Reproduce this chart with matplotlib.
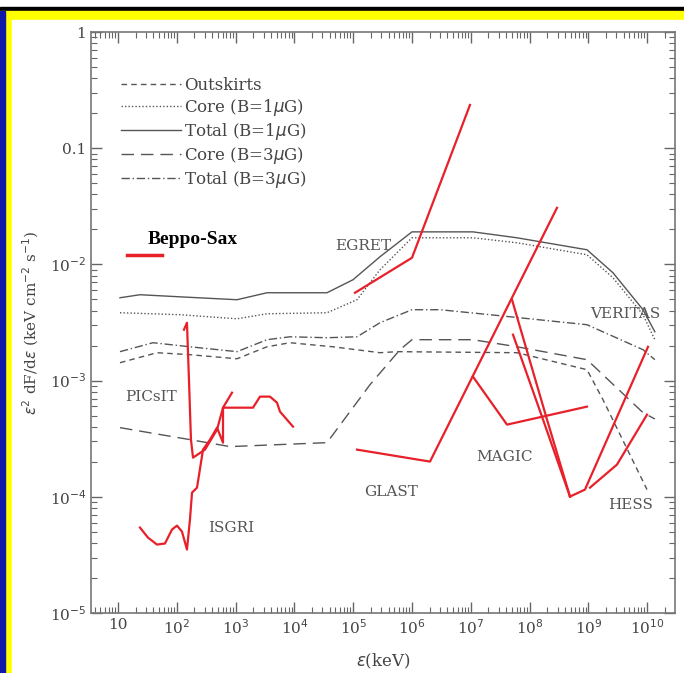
import numpy as np
import matplotlib.pyplot as plt
from matplotlib.patches import Rectangle

# model curves, log10(E/keV) and log10(flux)
outsk_lx = [1.034, 1.663, 2.224, 3.024, 3.534, 3.925, 4.656, 5.456, 5.745, 7.786, 8.976, 9.248, 9.997]
outsk_ly = [-2.846, -2.760, -2.777, -2.812, -2.709, -2.674, -2.709, -2.760, -2.751, -2.760, -2.906, -3.164, -3.938]

core1_lx = [1.034, 2.054, 3.024, 3.534, 4.554, 5.065, 5.456, 6.000, 7.037, 7.786, 8.976, 9.418, 9.929, 10.13]
core1_ly = [-2.416, -2.433, -2.468, -2.425, -2.416, -2.304, -2.046, -1.771, -1.771, -1.814, -1.917, -2.115, -2.433, -2.648]

tot1_lx = [1.034, 1.374, 2.054, 3.024, 3.534, 4.554, 4.997, 5.456, 6.000, 7.037, 7.786, 8.976, 9.418, 9.929, 10.13]
tot1_ly = [-2.287, -2.261, -2.279, -2.304, -2.244, -2.244, -2.132, -1.934, -1.720, -1.720, -1.771, -1.874, -2.072, -2.390, -2.580]

core3_lx = [1.034, 2.224, 2.905, 4.554, 5.286, 5.796, 6.000, 7.037, 7.786, 8.976, 9.929, 10.13]
core3_ly = [-3.405, -3.508, -3.568, -3.534, -3.035, -2.734, -2.648, -2.648, -2.709, -2.820, -3.276, -3.330]

tot3_lx = [1.034, 1.595, 2.224, 3.024, 3.534, 3.925, 4.554, 5.065, 5.456, 6.000, 6.476, 7.327, 8.976, 9.929, 10.13]
tot3_ly = [-2.751, -2.674, -2.709, -2.751, -2.648, -2.623, -2.631, -2.623, -2.502, -2.390, -2.390, -2.433, -2.519, -2.734, -2.820]

# instrument sensitivities
beppo_lx = [1.15, 1.75]
beppo_ly = [-1.92, -1.92]

isgri_lx = [1.374, 1.510, 1.663, 1.799, 1.918, 2.003, 2.088, 2.173, 2.224, 2.259, 2.344, 2.446, 2.565, 2.684, 2.786, 2.786, 2.939]
isgri_ly = [-4.265, -4.351, -4.411, -4.402, -4.282, -4.248, -4.299, -4.454, -4.196, -3.964, -3.921, -3.594, -3.508, -3.405, -3.534, -3.233, -3.104]

picsit_lx = [2.122, 2.173, 2.207, 2.241, 2.276, 2.480, 2.684, 2.786, 3.296, 3.415, 3.585, 3.704, 3.755, 3.976]
picsit_ly = [-2.562, -2.502, -2.992, -3.508, -3.663, -3.594, -3.422, -3.233, -3.233, -3.138, -3.138, -3.190, -3.267, -3.396]

egret_lx = [5.031, 6.000, 6.986]
egret_ly = [-2.244, -1.943, -0.628]

glast_lx = [5.065, 6.306, 8.466]
glast_ly = [-3.594, -3.697, -1.513]

magic_lx = [7.037, 7.616, 8.976]
magic_ly = [-2.966, -3.379, -3.224]

hess1_lx = [7.701, 8.296, 8.687]
hess1_ly = [-2.304, -3.335, -3.998]
hess2_lx = [7.718, 8.228, 8.687]
hess2_ly = [-2.605, -3.335, -3.998]
hess3_lx = [8.687, 8.942, 10.014]
hess3_ly = [-3.998, -3.938, -2.709]
hess4_lx = [9.027, 9.486, 9.997]
hess4_ly = [-3.921, -3.723, -3.293]

def p(a):
    return np.power(10.0, a)

fig = plt.figure(figsize=(6.84, 6.73), dpi=100)
fig.patch.set_facecolor('white')

# frame decoration
W, H = 684.0, 673.0
fig.patches.append(Rectangle((0, 1 - 11/H), 1, 4/H, transform=fig.transFigure, color='black', zorder=-5))
fig.patches.append(Rectangle((0, 0), 1, 1 - 11/H, transform=fig.transFigure, color='#ffff00', zorder=-5))
fig.patches.append(Rectangle((0, 0), 5/W, 1 - 11/H, transform=fig.transFigure, color='#1018a8', zorder=-4))
fig.patches.append(Rectangle((12/W, 0), 1 - 12/W, 1 - 20/H, transform=fig.transFigure, color='white', zorder=-4))

ax = fig.add_axes([91/W, 1 - 613/H, 584/W, 581/H])
ax.set_facecolor('none')
ax.set_xscale('log')
ax.set_yscale('log')
ax.set_xlim(p(0.541), p(10.473))
ax.set_ylim(1e-5, 1)

grey = '#555555'
ax.plot(p(outsk_lx), p(outsk_ly), color=grey, lw=1.0, dashes=(4, 3), label='Outskirts')
ax.plot(p(core1_lx), p(core1_ly), color=grey, lw=1.0, dashes=(1, 1.5), label=r'Core (B=1$\mu$G)')
ax.plot(p(tot1_lx), p(tot1_ly), color=grey, lw=1.0, label=r'Total (B=1$\mu$G)')
ax.plot(p(core3_lx), p(core3_ly), color=grey, lw=1.0, dashes=(9, 5), label=r'Core (B=3$\mu$G)')
ax.plot(p(tot3_lx), p(tot3_ly), color=grey, lw=1.0, dashes=(6, 2, 1, 2), label=r'Total (B=3$\mu$G)')

red = '#e8202a'
for lx, ly in [(beppo_lx, beppo_ly), (isgri_lx, isgri_ly), (picsit_lx, picsit_ly),
               (egret_lx, egret_ly), (glast_lx, glast_ly), (magic_lx, magic_ly),
               (hess1_lx, hess1_ly), (hess2_lx, hess2_ly), (hess3_lx, hess3_ly),
               (hess4_lx, hess4_ly)]:
    lw = 2.5 if lx is beppo_lx else 1.6
    ax.plot(p(lx), p(ly), color=red, lw=lw)

leg = ax.legend(loc='upper left', bbox_to_anchor=(0.025, 0.948), frameon=False,
                handlelength=3.6, handletextpad=0.2, labelspacing=0.18,
                prop={'family': 'DejaVu Serif', 'size': 12})
for t in leg.get_texts():
    t.set_color('#444444')

lab = dict(family='DejaVu Serif', size=11, color='#555555')
ax.text(p(4.7), p(-1.84), 'EGRET', ha='left', va='center', **lab)
ax.text(p(9.03), p(-2.43), 'VERITAS', ha='left', va='center', **lab)
ax.text(p(1.12), p(-3.14), 'PICsIT', ha='left', va='center', **lab)
ax.text(p(7.1), p(-3.66), 'MAGIC', ha='left', va='center', **lab)
ax.text(p(5.18), p(-3.96), 'GLAST', ha='left', va='center', **lab)
ax.text(p(9.33), p(-4.07), 'HESS', ha='left', va='center', **lab)
ax.text(p(2.53), p(-4.27), 'ISGRI', ha='left', va='center', **lab)
ax.text(p(1.5), p(-1.79), 'Beppo-Sax', ha='left', va='center',
        family='Liberation Serif', weight='bold', size=14, color='black')

xt = [10.0 ** k for k in range(1, 11)]
xtl = ['10'] + ['10$^{%d}$' % k for k in range(2, 11)]
ax.set_xticks(xt)
ax.set_xticklabels(xtl)
yt = [1e-5, 1e-4, 1e-3, 1e-2, 0.1, 1]
ytl = ['10$^{-5}$', '10$^{-4}$', '10$^{-3}$', '10$^{-2}$', '0.1', '1']
ax.set_yticks(yt)
ax.set_yticklabels(ytl)
ax.xaxis.set_minor_locator(plt.matplotlib.ticker.LogLocator(base=10, subs=np.arange(2, 10), numticks=30))
ax.yaxis.set_minor_locator(plt.matplotlib.ticker.LogLocator(base=10, subs=np.arange(2, 10), numticks=30))
ax.xaxis.set_minor_formatter(plt.NullFormatter())
ax.yaxis.set_minor_formatter(plt.NullFormatter())
ax.tick_params(which='both', direction='in', top=True, right=True, colors='#666666',
               labelcolor='#444444')
ax.tick_params(which='major', length=8, width=1)
ax.tick_params(which='minor', length=4, width=0.8)
for lbl in ax.get_xticklabels() + ax.get_yticklabels():
    lbl.set_family('DejaVu Serif')
    lbl.set_fontsize(11)
for s in ax.spines.values():
    s.set_color('#777777')
    s.set_linewidth(1.2)

ax.set_xlabel(r'$\epsilon$(keV)', family='DejaVu Serif', size=12, color='#444444', labelpad=11)
ax.set_ylabel(r'$\epsilon^2$ dF/d$\epsilon$ (keV cm$^{-2}$ s$^{-1}$)', family='DejaVu Serif',
              size=11, color='#444444', labelpad=6)

fig.savefig('out.png', dpi=100)
